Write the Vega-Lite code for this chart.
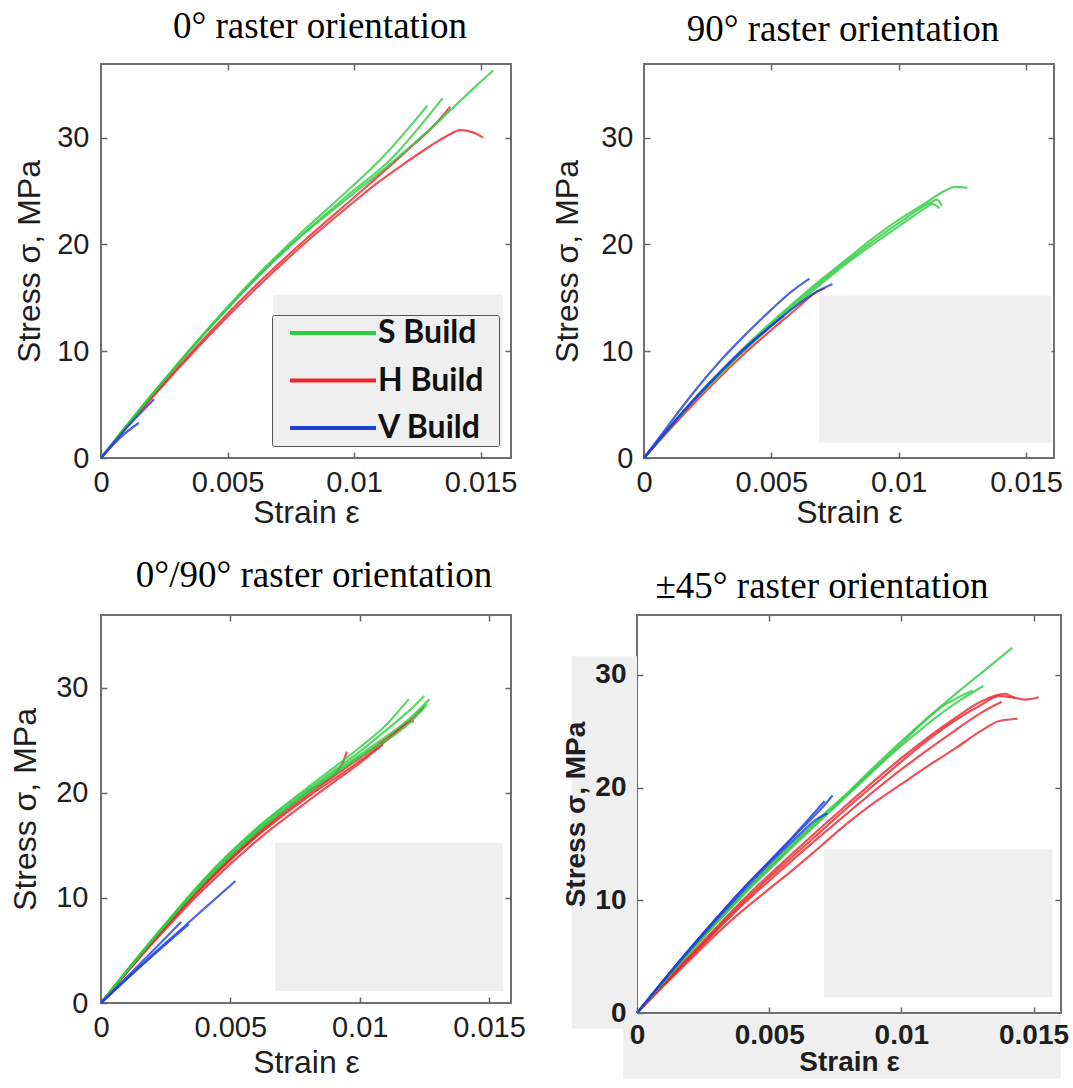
{
  "$schema": "https://vega.github.io/schema/vega-lite/v6.json",
  "background": "white",
  "padding": {"left": 8, "top": 7, "right": 0, "bottom": 0},
  "config": {
    "view": {"stroke": "#707070", "strokeWidth": 2},
    "axis": {"grid": false, "domain": false, "tickSize": -6, "tickColor": "#666", "tickWidth": 1.5,
      "labelFont": "Liberation Sans", "labelFontSize": 29, "labelColor": "#1e1e1e", "labelOverlap": false, "labelFlush": false,
      "titleFont": "Liberation Sans", "titleFontSize": 32, "titleFontWeight": "normal", "titleColor": "#1e1e1e"},
    "title": {"font": "Liberation Serif", "fontSize": 37, "fontWeight": "normal", "color": "#000", "baseline": "alphabetic", "frame": "group", "anchor": "middle"}
  },
  "datasets": {
    "boxes": [
      {"p": 1, "x1": 0.00681, "x2": 0.01587, "y1": 1.0, "y2": 15.3},
      {"p": 2, "x1": 0.00688, "x2": 0.0160, "y1": 1.45, "y2": 15.2},
      {"p": 3, "x1": 0.00673, "x2": 0.01553, "y1": 1.15, "y2": 15.25},
      {"p": 4, "x1": 0.00708, "x2": 0.01571, "y1": 1.4, "y2": 14.5},
      {"p": 4, "x1": -0.00247, "x2": 0, "y1": -1.38, "y2": 31.65},
      {"p": 4, "x1": -0.00052, "x2": 0.01604, "y1": -5.81, "y2": -0.15}
    ],
    "curves": [
      {"p":1,"id":"1h2","b":"H Build","e":0,"s":0},{"p":1,"id":"1h2","b":"H Build","e":0.002,"s":5.6},{"p":1,"id":"1h2","b":"H Build","e":0.004,"s":10.8},{"p":1,"id":"1h2","b":"H Build","e":0.006,"s":15.6},{"p":1,"id":"1h2","b":"H Build","e":0.008,"s":20.0},{"p":1,"id":"1h2","b":"H Build","e":0.01,"s":24.0},{"p":1,"id":"1h2","b":"H Build","e":0.011,"s":25.9},{"p":1,"id":"1h2","b":"H Build","e":0.012,"s":27.6},{"p":1,"id":"1h2","b":"H Build","e":0.013,"s":29.2},{"p":1,"id":"1h2","b":"H Build","e":0.0137,"s":30.2},{"p":1,"id":"1h2","b":"H Build","e":0.0142,"s":30.7},{"p":1,"id":"1h2","b":"H Build","e":0.0147,"s":30.5},{"p":1,"id":"1h2","b":"H Build","e":0.0151,"s":30.0},
      {"p":1,"id":"1h1","b":"H Build","e":0,"s":0},{"p":1,"id":"1h1","b":"H Build","e":0.002,"s":5.7},{"p":1,"id":"1h1","b":"H Build","e":0.004,"s":11.0},{"p":1,"id":"1h1","b":"H Build","e":0.006,"s":15.9},{"p":1,"id":"1h1","b":"H Build","e":0.008,"s":20.3},{"p":1,"id":"1h1","b":"H Build","e":0.01,"s":24.4},{"p":1,"id":"1h1","b":"H Build","e":0.012,"s":28.6},{"p":1,"id":"1h1","b":"H Build","e":0.0133,"s":31.5},{"p":1,"id":"1h1","b":"H Build","e":0.0138,"s":32.9},
      {"p":1,"id":"1s1","b":"S Build","e":0,"s":0},{"p":1,"id":"1s1","b":"S Build","e":0.001,"s":3.0},{"p":1,"id":"1s1","b":"S Build","e":0.002,"s":5.9},{"p":1,"id":"1s1","b":"S Build","e":0.003,"s":8.7},{"p":1,"id":"1s1","b":"S Build","e":0.004,"s":11.4},{"p":1,"id":"1s1","b":"S Build","e":0.005,"s":14.0},{"p":1,"id":"1s1","b":"S Build","e":0.006,"s":16.5},{"p":1,"id":"1s1","b":"S Build","e":0.007,"s":18.9},{"p":1,"id":"1s1","b":"S Build","e":0.008,"s":21.0},{"p":1,"id":"1s1","b":"S Build","e":0.009,"s":22.9},{"p":1,"id":"1s1","b":"S Build","e":0.01,"s":24.8},{"p":1,"id":"1s1","b":"S Build","e":0.011,"s":26.7},{"p":1,"id":"1s1","b":"S Build","e":0.012,"s":28.7},{"p":1,"id":"1s1","b":"S Build","e":0.013,"s":30.8},{"p":1,"id":"1s1","b":"S Build","e":0.014,"s":33.0},{"p":1,"id":"1s1","b":"S Build","e":0.0148,"s":34.8},{"p":1,"id":"1s1","b":"S Build","e":0.0155,"s":36.3},
      {"p":1,"id":"1s2","b":"S Build","e":0,"s":0},{"p":1,"id":"1s2","b":"S Build","e":0.002,"s":5.9},{"p":1,"id":"1s2","b":"S Build","e":0.004,"s":11.4},{"p":1,"id":"1s2","b":"S Build","e":0.006,"s":16.5},{"p":1,"id":"1s2","b":"S Build","e":0.008,"s":21.0},{"p":1,"id":"1s2","b":"S Build","e":0.0096,"s":24.3},{"p":1,"id":"1s2","b":"S Build","e":0.0115,"s":28.1},{"p":1,"id":"1s2","b":"S Build","e":0.0135,"s":33.7},
      {"p":1,"id":"1s3","b":"S Build","e":0,"s":0},{"p":1,"id":"1s3","b":"S Build","e":0.002,"s":5.9},{"p":1,"id":"1s3","b":"S Build","e":0.004,"s":11.5},{"p":1,"id":"1s3","b":"S Build","e":0.006,"s":16.7},{"p":1,"id":"1s3","b":"S Build","e":0.008,"s":21.3},{"p":1,"id":"1s3","b":"S Build","e":0.0094,"s":24.3},{"p":1,"id":"1s3","b":"S Build","e":0.0111,"s":28.1},{"p":1,"id":"1s3","b":"S Build","e":0.0129,"s":33.0},
      {"p":1,"id":"1v1","b":"V Build","e":0,"s":0},{"p":1,"id":"1v1","b":"V Build","e":0.001,"s":2.8},{"p":1,"id":"1v1","b":"V Build","e":0.0021,"s":5.5},
      {"p":1,"id":"1v2","b":"V Build","e":0,"s":0},{"p":1,"id":"1v2","b":"V Build","e":0.0008,"s":2.0},{"p":1,"id":"1v2","b":"V Build","e":0.0015,"s":3.3},

      {"p":2,"id":"2h1","b":"H Build","e":0,"s":0},{"p":2,"id":"2h1","b":"H Build","e":0.002,"s":5.2},{"p":2,"id":"2h1","b":"H Build","e":0.004,"s":9.9},{"p":2,"id":"2h1","b":"H Build","e":0.006,"s":14.0},{"p":2,"id":"2h1","b":"H Build","e":0.0068,"s":15.6},{"p":2,"id":"2h1","b":"H Build","e":0.0071,"s":15.9},
      {"p":2,"id":"2s1","b":"S Build","e":0,"s":0},{"p":2,"id":"2s1","b":"S Build","e":0.001,"s":2.9},{"p":2,"id":"2s1","b":"S Build","e":0.002,"s":5.6},{"p":2,"id":"2s1","b":"S Build","e":0.003,"s":8.1},{"p":2,"id":"2s1","b":"S Build","e":0.004,"s":10.5},{"p":2,"id":"2s1","b":"S Build","e":0.005,"s":12.7},{"p":2,"id":"2s1","b":"S Build","e":0.006,"s":14.8},{"p":2,"id":"2s1","b":"S Build","e":0.007,"s":16.8},{"p":2,"id":"2s1","b":"S Build","e":0.008,"s":18.7},{"p":2,"id":"2s1","b":"S Build","e":0.009,"s":20.6},{"p":2,"id":"2s1","b":"S Build","e":0.01,"s":22.3},{"p":2,"id":"2s1","b":"S Build","e":0.011,"s":23.8},{"p":2,"id":"2s1","b":"S Build","e":0.0118,"s":25.0},{"p":2,"id":"2s1","b":"S Build","e":0.0122,"s":25.4},{"p":2,"id":"2s1","b":"S Build","e":0.0127,"s":25.3},
      {"p":2,"id":"2s2","b":"S Build","e":0,"s":0},{"p":2,"id":"2s2","b":"S Build","e":0.002,"s":5.5},{"p":2,"id":"2s2","b":"S Build","e":0.004,"s":10.3},{"p":2,"id":"2s2","b":"S Build","e":0.006,"s":14.6},{"p":2,"id":"2s2","b":"S Build","e":0.008,"s":18.5},{"p":2,"id":"2s2","b":"S Build","e":0.01,"s":22.0},{"p":2,"id":"2s2","b":"S Build","e":0.0113,"s":24.0},{"p":2,"id":"2s2","b":"S Build","e":0.0115,"s":24.2},{"p":2,"id":"2s2","b":"S Build","e":0.0117,"s":23.6},
      {"p":2,"id":"2s3","b":"S Build","e":0,"s":0},{"p":2,"id":"2s3","b":"S Build","e":0.002,"s":5.5},{"p":2,"id":"2s3","b":"S Build","e":0.004,"s":10.2},{"p":2,"id":"2s3","b":"S Build","e":0.006,"s":14.4},{"p":2,"id":"2s3","b":"S Build","e":0.008,"s":18.3},{"p":2,"id":"2s3","b":"S Build","e":0.01,"s":21.7},{"p":2,"id":"2s3","b":"S Build","e":0.0111,"s":23.5},{"p":2,"id":"2s3","b":"S Build","e":0.0113,"s":23.8},{"p":2,"id":"2s3","b":"S Build","e":0.0116,"s":23.4},
      {"p":2,"id":"2v1","b":"V Build","e":0,"s":0},{"p":2,"id":"2v1","b":"V Build","e":0.001,"s":3.2},{"p":2,"id":"2v1","b":"V Build","e":0.002,"s":6.3},{"p":2,"id":"2v1","b":"V Build","e":0.003,"s":9.1},{"p":2,"id":"2v1","b":"V Build","e":0.004,"s":11.6},{"p":2,"id":"2v1","b":"V Build","e":0.005,"s":13.9},{"p":2,"id":"2v1","b":"V Build","e":0.0058,"s":15.6},{"p":2,"id":"2v1","b":"V Build","e":0.0065,"s":16.8},
      {"p":2,"id":"2v2","b":"V Build","e":0,"s":0},{"p":2,"id":"2v2","b":"V Build","e":0.002,"s":5.5},{"p":2,"id":"2v2","b":"V Build","e":0.004,"s":10.3},{"p":2,"id":"2v2","b":"V Build","e":0.006,"s":14.3},{"p":2,"id":"2v2","b":"V Build","e":0.0068,"s":15.6},{"p":2,"id":"2v2","b":"V Build","e":0.0074,"s":16.3},
      {"p":2,"id":"2v3","b":"V Build","e":0,"s":0},{"p":2,"id":"2v3","b":"V Build","e":0.002,"s":5.6},{"p":2,"id":"2v3","b":"V Build","e":0.004,"s":10.4},{"p":2,"id":"2v3","b":"V Build","e":0.0055,"s":13.3},

      {"p":3,"id":"3h1","b":"H Build","e":0,"s":0},{"p":3,"id":"3h1","b":"H Build","e":0.002,"s":5.9},{"p":3,"id":"3h1","b":"H Build","e":0.004,"s":11.3},{"p":3,"id":"3h1","b":"H Build","e":0.006,"s":15.9},{"p":3,"id":"3h1","b":"H Build","e":0.008,"s":19.8},{"p":3,"id":"3h1","b":"H Build","e":0.01,"s":23.3},{"p":3,"id":"3h1","b":"H Build","e":0.011,"s":25.1},{"p":3,"id":"3h1","b":"H Build","e":0.012,"s":27.0},{"p":3,"id":"3h1","b":"H Build","e":0.0125,"s":28.2},
      {"p":3,"id":"3h2","b":"H Build","e":0,"s":0},{"p":3,"id":"3h2","b":"H Build","e":0.002,"s":5.8},{"p":3,"id":"3h2","b":"H Build","e":0.004,"s":11.2},{"p":3,"id":"3h2","b":"H Build","e":0.006,"s":15.8},{"p":3,"id":"3h2","b":"H Build","e":0.008,"s":19.6},{"p":3,"id":"3h2","b":"H Build","e":0.01,"s":23.0},{"p":3,"id":"3h2","b":"H Build","e":0.011,"s":24.9},{"p":3,"id":"3h2","b":"H Build","e":0.0115,"s":26.0},{"p":3,"id":"3h2","b":"H Build","e":0.0118,"s":26.6},{"p":3,"id":"3h2","b":"H Build","e":0.0121,"s":26.8},
      {"p":3,"id":"3h3","b":"H Build","e":0,"s":0},{"p":3,"id":"3h3","b":"H Build","e":0.002,"s":5.7},{"p":3,"id":"3h3","b":"H Build","e":0.004,"s":10.9},{"p":3,"id":"3h3","b":"H Build","e":0.006,"s":15.4},{"p":3,"id":"3h3","b":"H Build","e":0.008,"s":19.2},{"p":3,"id":"3h3","b":"H Build","e":0.009,"s":21.0},{"p":3,"id":"3h3","b":"H Build","e":0.01,"s":22.8},{"p":3,"id":"3h3","b":"H Build","e":0.0105,"s":23.8},{"p":3,"id":"3h3","b":"H Build","e":0.0109,"s":24.6},
      {"p":3,"id":"3h4","b":"H Build","e":0,"s":0},{"p":3,"id":"3h4","b":"H Build","e":0.002,"s":5.9},{"p":3,"id":"3h4","b":"H Build","e":0.004,"s":11.4},{"p":3,"id":"3h4","b":"H Build","e":0.006,"s":16.1},{"p":3,"id":"3h4","b":"H Build","e":0.008,"s":20.1},{"p":3,"id":"3h4","b":"H Build","e":0.0093,"s":22.6},{"p":3,"id":"3h4","b":"H Build","e":0.0095,"s":23.9},
      {"p":3,"id":"3s1","b":"S Build","e":0,"s":0},{"p":3,"id":"3s1","b":"S Build","e":0.001,"s":3.1},{"p":3,"id":"3s1","b":"S Build","e":0.002,"s":6.1},{"p":3,"id":"3s1","b":"S Build","e":0.003,"s":9.0},{"p":3,"id":"3s1","b":"S Build","e":0.004,"s":11.8},{"p":3,"id":"3s1","b":"S Build","e":0.005,"s":14.3},{"p":3,"id":"3s1","b":"S Build","e":0.006,"s":16.5},{"p":3,"id":"3s1","b":"S Build","e":0.007,"s":18.5},{"p":3,"id":"3s1","b":"S Build","e":0.008,"s":20.3},{"p":3,"id":"3s1","b":"S Build","e":0.009,"s":22.1},{"p":3,"id":"3s1","b":"S Build","e":0.01,"s":23.9},{"p":3,"id":"3s1","b":"S Build","e":0.011,"s":25.9},{"p":3,"id":"3s1","b":"S Build","e":0.012,"s":28.0},{"p":3,"id":"3s1","b":"S Build","e":0.0125,"s":29.2},
      {"p":3,"id":"3s2","b":"S Build","e":0,"s":0},{"p":3,"id":"3s2","b":"S Build","e":0.002,"s":6.0},{"p":3,"id":"3s2","b":"S Build","e":0.004,"s":11.6},{"p":3,"id":"3s2","b":"S Build","e":0.006,"s":16.3},{"p":3,"id":"3s2","b":"S Build","e":0.008,"s":20.1},{"p":3,"id":"3s2","b":"S Build","e":0.01,"s":23.6},{"p":3,"id":"3s2","b":"S Build","e":0.011,"s":25.3},{"p":3,"id":"3s2","b":"S Build","e":0.012,"s":27.2},{"p":3,"id":"3s2","b":"S Build","e":0.0127,"s":28.9},
      {"p":3,"id":"3s3","b":"S Build","e":0,"s":0},{"p":3,"id":"3s3","b":"S Build","e":0.002,"s":6.1},{"p":3,"id":"3s3","b":"S Build","e":0.004,"s":11.8},{"p":3,"id":"3s3","b":"S Build","e":0.006,"s":16.6},{"p":3,"id":"3s3","b":"S Build","e":0.008,"s":20.5},{"p":3,"id":"3s3","b":"S Build","e":0.01,"s":24.3},{"p":3,"id":"3s3","b":"S Build","e":0.011,"s":26.4},{"p":3,"id":"3s3","b":"S Build","e":0.0119,"s":28.9},
      {"p":3,"id":"3s4","b":"S Build","e":0,"s":0},{"p":3,"id":"3s4","b":"S Build","e":0.002,"s":6.0},{"p":3,"id":"3s4","b":"S Build","e":0.004,"s":11.5},{"p":3,"id":"3s4","b":"S Build","e":0.006,"s":16.2},{"p":3,"id":"3s4","b":"S Build","e":0.008,"s":20.0},{"p":3,"id":"3s4","b":"S Build","e":0.01,"s":23.4},{"p":3,"id":"3s4","b":"S Build","e":0.012,"s":26.8},{"p":3,"id":"3s4","b":"S Build","e":0.0126,"s":28.4},
      {"p":3,"id":"3v1","b":"V Build","e":0,"s":0},{"p":3,"id":"3v1","b":"V Build","e":0.001,"s":2.3},{"p":3,"id":"3v1","b":"V Build","e":0.002,"s":4.6},{"p":3,"id":"3v1","b":"V Build","e":0.003,"s":6.8},{"p":3,"id":"3v1","b":"V Build","e":0.004,"s":9.0},{"p":3,"id":"3v1","b":"V Build","e":0.0052,"s":11.6},
      {"p":3,"id":"3v2","b":"V Build","e":0,"s":0},{"p":3,"id":"3v2","b":"V Build","e":0.001,"s":2.3},{"p":3,"id":"3v2","b":"V Build","e":0.002,"s":4.5},{"p":3,"id":"3v2","b":"V Build","e":0.0034,"s":7.5},
      {"p":3,"id":"3v3","b":"V Build","e":0,"s":0},{"p":3,"id":"3v3","b":"V Build","e":0.0015,"s":3.7},{"p":3,"id":"3v3","b":"V Build","e":0.0031,"s":7.7},

      {"p":4,"id":"4h4","b":"H Build","e":0,"s":0},{"p":4,"id":"4h4","b":"H Build","e":0.001,"s":2.4},{"p":4,"id":"4h4","b":"H Build","e":0.002,"s":4.7},{"p":4,"id":"4h4","b":"H Build","e":0.003,"s":7.0},{"p":4,"id":"4h4","b":"H Build","e":0.004,"s":9.1},{"p":4,"id":"4h4","b":"H Build","e":0.005,"s":11.0},{"p":4,"id":"4h4","b":"H Build","e":0.006,"s":12.9},{"p":4,"id":"4h4","b":"H Build","e":0.007,"s":14.9},{"p":4,"id":"4h4","b":"H Build","e":0.008,"s":16.9},{"p":4,"id":"4h4","b":"H Build","e":0.009,"s":18.7},{"p":4,"id":"4h4","b":"H Build","e":0.01,"s":20.3},{"p":4,"id":"4h4","b":"H Build","e":0.011,"s":21.9},{"p":4,"id":"4h4","b":"H Build","e":0.012,"s":23.4},{"p":4,"id":"4h4","b":"H Build","e":0.013,"s":25.0},{"p":4,"id":"4h4","b":"H Build","e":0.0137,"s":25.9},{"p":4,"id":"4h4","b":"H Build","e":0.0144,"s":26.1},
      {"p":4,"id":"4h1","b":"H Build","e":0,"s":0},{"p":4,"id":"4h1","b":"H Build","e":0.001,"s":2.5},{"p":4,"id":"4h1","b":"H Build","e":0.002,"s":5.0},{"p":4,"id":"4h1","b":"H Build","e":0.003,"s":7.4},{"p":4,"id":"4h1","b":"H Build","e":0.004,"s":9.8},{"p":4,"id":"4h1","b":"H Build","e":0.005,"s":12.0},{"p":4,"id":"4h1","b":"H Build","e":0.006,"s":14.1},{"p":4,"id":"4h1","b":"H Build","e":0.007,"s":16.2},{"p":4,"id":"4h1","b":"H Build","e":0.008,"s":18.3},{"p":4,"id":"4h1","b":"H Build","e":0.009,"s":20.3},{"p":4,"id":"4h1","b":"H Build","e":0.01,"s":22.3},{"p":4,"id":"4h1","b":"H Build","e":0.011,"s":24.2},{"p":4,"id":"4h1","b":"H Build","e":0.012,"s":25.9},{"p":4,"id":"4h1","b":"H Build","e":0.013,"s":27.3},{"p":4,"id":"4h1","b":"H Build","e":0.0137,"s":28.1},{"p":4,"id":"4h1","b":"H Build","e":0.0142,"s":28.0},{"p":4,"id":"4h1","b":"H Build","e":0.0147,"s":27.8},{"p":4,"id":"4h1","b":"H Build","e":0.0152,"s":28.0},
      {"p":4,"id":"4h2","b":"H Build","e":0,"s":0},{"p":4,"id":"4h2","b":"H Build","e":0.002,"s":5.1},{"p":4,"id":"4h2","b":"H Build","e":0.004,"s":10.0},{"p":4,"id":"4h2","b":"H Build","e":0.006,"s":14.4},{"p":4,"id":"4h2","b":"H Build","e":0.008,"s":18.6},{"p":4,"id":"4h2","b":"H Build","e":0.01,"s":22.6},{"p":4,"id":"4h2","b":"H Build","e":0.012,"s":26.1},{"p":4,"id":"4h2","b":"H Build","e":0.013,"s":27.6},{"p":4,"id":"4h2","b":"H Build","e":0.0139,"s":28.3},{"p":4,"id":"4h2","b":"H Build","e":0.0143,"s":27.9},
      {"p":4,"id":"4h3","b":"H Build","e":0,"s":0},{"p":4,"id":"4h3","b":"H Build","e":0.002,"s":4.9},{"p":4,"id":"4h3","b":"H Build","e":0.004,"s":9.6},{"p":4,"id":"4h3","b":"H Build","e":0.006,"s":13.8},{"p":4,"id":"4h3","b":"H Build","e":0.008,"s":17.8},{"p":4,"id":"4h3","b":"H Build","e":0.01,"s":21.6},{"p":4,"id":"4h3","b":"H Build","e":0.012,"s":25.0},{"p":4,"id":"4h3","b":"H Build","e":0.013,"s":26.6},{"p":4,"id":"4h3","b":"H Build","e":0.0138,"s":27.6},
      {"p":4,"id":"4s1","b":"S Build","e":0,"s":0},{"p":4,"id":"4s1","b":"S Build","e":0.001,"s":2.8},{"p":4,"id":"4s1","b":"S Build","e":0.002,"s":5.5},{"p":4,"id":"4s1","b":"S Build","e":0.003,"s":8.1},{"p":4,"id":"4s1","b":"S Build","e":0.004,"s":10.6},{"p":4,"id":"4s1","b":"S Build","e":0.005,"s":13.0},{"p":4,"id":"4s1","b":"S Build","e":0.006,"s":15.3},{"p":4,"id":"4s1","b":"S Build","e":0.007,"s":17.5},{"p":4,"id":"4s1","b":"S Build","e":0.008,"s":19.6},{"p":4,"id":"4s1","b":"S Build","e":0.009,"s":21.9},{"p":4,"id":"4s1","b":"S Build","e":0.01,"s":24.1},{"p":4,"id":"4s1","b":"S Build","e":0.011,"s":26.2},{"p":4,"id":"4s1","b":"S Build","e":0.012,"s":28.2},{"p":4,"id":"4s1","b":"S Build","e":0.013,"s":30.1},{"p":4,"id":"4s1","b":"S Build","e":0.0142,"s":32.4},
      {"p":4,"id":"4s2","b":"S Build","e":0,"s":0},{"p":4,"id":"4s2","b":"S Build","e":0.002,"s":5.4},{"p":4,"id":"4s2","b":"S Build","e":0.004,"s":10.4},{"p":4,"id":"4s2","b":"S Build","e":0.006,"s":15.0},{"p":4,"id":"4s2","b":"S Build","e":0.008,"s":19.4},{"p":4,"id":"4s2","b":"S Build","e":0.01,"s":23.7},{"p":4,"id":"4s2","b":"S Build","e":0.012,"s":27.4},{"p":4,"id":"4s2","b":"S Build","e":0.0131,"s":29.0},
      {"p":4,"id":"4s3","b":"S Build","e":0,"s":0},{"p":4,"id":"4s3","b":"S Build","e":0.002,"s":5.4},{"p":4,"id":"4s3","b":"S Build","e":0.004,"s":10.5},{"p":4,"id":"4s3","b":"S Build","e":0.006,"s":15.1},{"p":4,"id":"4s3","b":"S Build","e":0.008,"s":19.5},{"p":4,"id":"4s3","b":"S Build","e":0.01,"s":23.9},{"p":4,"id":"4s3","b":"S Build","e":0.0115,"s":27.1},{"p":4,"id":"4s3","b":"S Build","e":0.0127,"s":28.6},
      {"p":4,"id":"4v1","b":"V Build","e":0,"s":0},{"p":4,"id":"4v1","b":"V Build","e":0.001,"s":2.9},{"p":4,"id":"4v1","b":"V Build","e":0.002,"s":5.7},{"p":4,"id":"4v1","b":"V Build","e":0.003,"s":8.4},{"p":4,"id":"4v1","b":"V Build","e":0.004,"s":11.0},{"p":4,"id":"4v1","b":"V Build","e":0.005,"s":13.4},{"p":4,"id":"4v1","b":"V Build","e":0.006,"s":15.8},{"p":4,"id":"4v1","b":"V Build","e":0.007,"s":18.2},{"p":4,"id":"4v1","b":"V Build","e":0.0074,"s":19.3},
      {"p":4,"id":"4v2","b":"V Build","e":0,"s":0},{"p":4,"id":"4v2","b":"V Build","e":0.002,"s":5.6},{"p":4,"id":"4v2","b":"V Build","e":0.004,"s":10.8},{"p":4,"id":"4v2","b":"V Build","e":0.006,"s":15.5},{"p":4,"id":"4v2","b":"V Build","e":0.0068,"s":17.2},{"p":4,"id":"4v2","b":"V Build","e":0.0072,"s":17.7},
      {"p":4,"id":"4v3","b":"V Build","e":0,"s":0},{"p":4,"id":"4v3","b":"V Build","e":0.002,"s":5.7},{"p":4,"id":"4v3","b":"V Build","e":0.004,"s":11.0},{"p":4,"id":"4v3","b":"V Build","e":0.006,"s":15.9},{"p":4,"id":"4v3","b":"V Build","e":0.0071,"s":18.8}
    ]
  },
  "resolve": {"scale": {"color": "independent"}, "legend": {"color": "independent"}},
  "spacing": 27,
  "vconcat": [
    {
      "hconcat": [
        {
          "width": 410, "height": 394,
          "title": {"text": "0° raster orientation", "offset": 17, "dx": 14},
          "resolve": {"axis": {"x": "independent", "y": "independent"}},
          "layer": [
            {"data": {"name": "boxes"}, "transform": [{"filter": "datum.p == 1"}],
             "mark": {"type": "rect", "color": "#efefef"},
             "encoding": {
               "x": {"field": "x1", "type": "quantitative", "scale": {"domain": [0, 0.0162], "nice": false, "zero": false}, "axis": {"orient": "top", "title": null, "labels": false, "values": [0.005, 0.01, 0.015]}},
               "x2": {"field": "x2"},
               "y": {"field": "y1", "type": "quantitative", "scale": {"domain": [0, 36.9], "nice": false, "zero": false}, "axis": {"orient": "right", "title": null, "labels": false, "values": [10, 20, 30]}},
               "y2": {"field": "y2"}}},
            {"data": {"name": "curves"}, "transform": [{"filter": "datum.p == 1"}],
             "mark": {"type": "line", "strokeWidth": 2.2, "opacity": 0.8, "interpolate": "monotone"},
             "encoding": {
               "x": {"field": "e", "type": "quantitative", "scale": {"domain": [0, 0.0162], "nice": false, "zero": false}, "axis": {"title": "Strain ε", "values": [0, 0.005, 0.01, 0.015], "format": "~g", "labelPadding": 16, "titlePadding": 0}},
               "y": {"field": "s", "type": "quantitative", "scale": {"domain": [0, 36.9], "nice": false, "zero": false}, "axis": {"title": "Stress σ, MPa", "values": [0, 10, 20, 30], "labelPadding": 18, "titlePadding": 10}},
               "detail": {"field": "id"},
               "color": {"field": "b", "type": "nominal", "scale": {"domain": ["S Build", "H Build", "V Build"], "range": ["#2fcc42", "#e8262d", "#2040d8"]},
                 "legend": {"title": "\u00a0", "titleOrient": "right", "titleFontSize": 6, "titlePadding": 13, "orient": "bottom-right", "offset": 12, "strokeColor": "#555", "fillColor": "#efefef", "cornerRadius": 2, "padding": 2,
                   "labelFont": "Lato", "labelFontSize": 32, "labelFontWeight": "bold", "labelColor": "#111",
                   "symbolType": "M-3.07,0H3.07", "symbolSize": 784, "symbolStrokeWidth": 4, "symbolOpacity": 1, "symbolOffset": 43, "labelOffset": 29, "rowPadding": 15.5}}}}
          ]
        },
        {
          "width": 410, "height": 394,
          "title": {"text": "90° raster orientation", "offset": 14, "dx": -6},
          "resolve": {"axis": {"x": "independent", "y": "independent"}},
          "layer": [
            {"data": {"name": "boxes"}, "transform": [{"filter": "datum.p == 2"}],
             "mark": {"type": "rect", "color": "#efefef"},
             "encoding": {
               "x": {"field": "x1", "type": "quantitative", "scale": {"domain": [0, 0.0161], "nice": false, "zero": false}, "axis": {"orient": "top", "title": null, "labels": false, "values": [0.005, 0.01, 0.015]}},
               "x2": {"field": "x2"},
               "y": {"field": "y1", "type": "quantitative", "scale": {"domain": [0, 36.9], "nice": false, "zero": false}, "axis": {"orient": "right", "title": null, "labels": false, "values": [10, 20, 30]}},
               "y2": {"field": "y2"}}},
            {"data": {"name": "curves"}, "transform": [{"filter": "datum.p == 2"}],
             "mark": {"type": "line", "strokeWidth": 2.2, "opacity": 0.8, "interpolate": "monotone"},
             "encoding": {
               "x": {"field": "e", "type": "quantitative", "scale": {"domain": [0, 0.0161], "nice": false, "zero": false}, "axis": {"title": "Strain ε", "values": [0, 0.005, 0.01, 0.015], "format": "~g", "labelPadding": 16, "titlePadding": 0}},
               "y": {"field": "s", "type": "quantitative", "scale": {"domain": [0, 36.9], "nice": false, "zero": false}, "axis": {"title": "Stress σ, MPa", "values": [0, 10, 20, 30], "labelPadding": 17, "titlePadding": 16}},
               "detail": {"field": "id"},
               "color": {"field": "b", "type": "nominal", "scale": {"domain": ["S Build", "H Build", "V Build"], "range": ["#2fcc42", "#e8262d", "#2040d8"]}, "legend": null}}}
          ]
        }
      ],
      "spacing": 32,
      "resolve": {"scale": {"color": "independent"}, "legend": {"color": "independent"}}
    },
    {
      "concat": [
        {
          "width": 410, "height": 388,
          "title": {"text": "0°/90° raster orientation", "offset": 19, "dx": 8},
          "resolve": {"axis": {"x": "independent", "y": "independent"}},
          "layer": [
            {"data": {"name": "boxes"}, "transform": [{"filter": "datum.p == 3"}],
             "mark": {"type": "rect", "color": "#efefef"},
             "encoding": {
               "x": {"field": "x1", "type": "quantitative", "scale": {"domain": [0, 0.01585], "nice": false, "zero": false}, "axis": {"orient": "top", "title": null, "labels": false, "values": [0.005, 0.01, 0.015]}},
               "x2": {"field": "x2"},
               "y": {"field": "y1", "type": "quantitative", "scale": {"domain": [0, 36.9], "nice": false, "zero": false}, "axis": {"orient": "right", "title": null, "labels": false, "values": [10, 20, 30]}},
               "y2": {"field": "y2"}}},
            {"data": {"name": "curves"}, "transform": [{"filter": "datum.p == 3"}],
             "mark": {"type": "line", "strokeWidth": 2.2, "opacity": 0.8, "interpolate": "monotone"},
             "encoding": {
               "x": {"field": "e", "type": "quantitative", "scale": {"domain": [0, 0.01585], "nice": false, "zero": false}, "axis": {"title": "Strain ε", "values": [0, 0.005, 0.01, 0.015], "format": "~g", "labelPadding": 16, "titlePadding": 5}},
               "y": {"field": "s", "type": "quantitative", "scale": {"domain": [0, 36.9], "nice": false, "zero": false}, "axis": {"title": "Stress σ, MPa", "values": [0, 10, 20, 30], "labelPadding": 19, "titlePadding": 13}},
               "detail": {"field": "id"},
               "color": {"field": "b", "type": "nominal", "scale": {"domain": ["S Build", "H Build", "V Build"], "range": ["#2fcc42", "#e8262d", "#2040d8"]}, "legend": null}}}
          ]
        },
        {
          "width": 424, "height": 398,
          "title": {"text": "±45° raster orientation", "offset": 8, "dx": -27},
          "resolve": {"axis": {"x": "independent", "y": "independent"}},
          "layer": [
            {"data": {"name": "boxes"}, "transform": [{"filter": "datum.p == 4"}],
             "mark": {"type": "rect", "color": "#efefef"},
             "encoding": {
               "x": {"field": "x1", "type": "quantitative", "scale": {"domain": [0, 0.01604], "nice": false, "zero": false}, "axis": {"orient": "top", "title": null, "labels": false, "values": [0.005, 0.01, 0.015]}},
               "x2": {"field": "x2"},
               "y": {"field": "y1", "type": "quantitative", "scale": {"domain": [0, 35.3], "nice": false, "zero": false}, "axis": {"orient": "right", "title": null, "labels": false, "values": [10, 20, 30]}},
               "y2": {"field": "y2"}}},
            {"data": {"name": "curves"}, "transform": [{"filter": "datum.p == 4"}],
             "mark": {"type": "line", "strokeWidth": 2.2, "opacity": 0.8, "interpolate": "monotone"},
             "encoding": {
               "x": {"field": "e", "type": "quantitative", "scale": {"domain": [0, 0.01604], "nice": false, "zero": false}, "axis": {"title": "Strain ε", "values": [0, 0.005, 0.01, 0.015], "format": "~g", "labelPadding": 14, "titlePadding": -1, "labelFontSize": 28, "titleFontSize": 28, "labelFontWeight": "bold", "titleFontWeight": "bold", "zindex": 1}},
               "y": {"field": "s", "type": "quantitative", "scale": {"domain": [0, 35.3], "nice": false, "zero": false}, "axis": {"title": "Stress σ, MPa", "values": [0, 10, 20, 30], "labelPadding": 17, "titlePadding": 4, "labelFontSize": 28, "titleFontSize": 28, "labelFontWeight": "bold", "titleFontWeight": "bold", "zindex": 1}},
               "detail": {"field": "id"},
               "color": {"field": "b", "type": "nominal", "scale": {"domain": ["S Build", "H Build", "V Build"], "range": ["#2fcc42", "#e8262d", "#2040d8"]}, "legend": null}}}
          ]
        }
      ],
      "columns": 2,
      "align": "none",
      "spacing": 34,
      "resolve": {"scale": {"color": "independent"}, "legend": {"color": "independent"}}
    }
  ]
}
